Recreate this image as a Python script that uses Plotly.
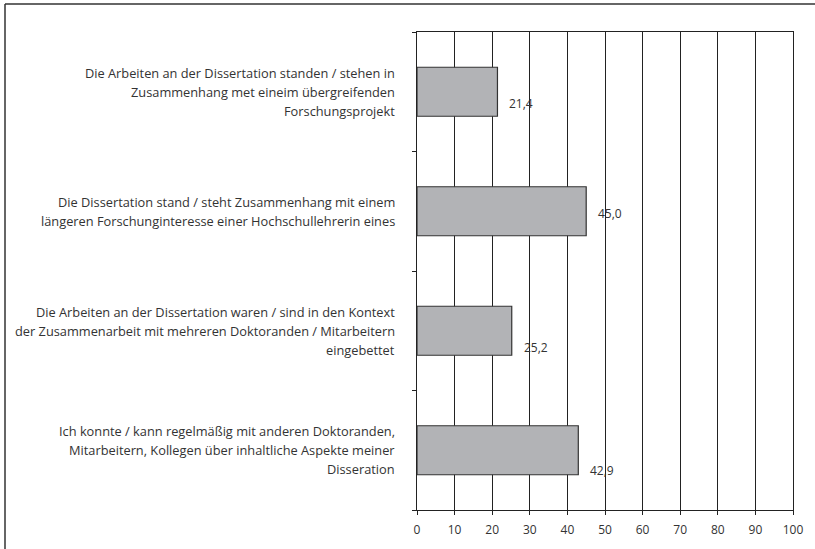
import plotly.graph_objects as go

categories = [
    "Die Arbeiten an der Dissertation standen / stehen in<br>Zusammenhang met eineim übergreifenden<br>Forschungsprojekt",
    "Die Dissertation stand / steht Zusammenhang mit einem<br>längeren Forschunginteresse einer Hochschullehrerin eines",
    "Die Arbeiten an der Dissertation waren / sind in den Kontext<br>der Zusammenarbeit mit mehreren Doktoranden / Mitarbeitern<br>eingebettet",
    "Ich konnte / kann regelmäßig mit anderen Doktoranden,<br>Mitarbeitern, Kollegen über inhaltliche Aspekte meiner<br>Disseration",
]
values = [21.4, 45.0, 25.2, 42.9]
x_ticks = [0, 10, 20, 30, 40, 50, 60, 70, 80, 90, 100]

# label vertical offsets (px) as placed in the original
label_yshift = [-12, -2, -17, -20]

FONT = "Open Sans"
positions = list(range(len(categories)))

fig = go.Figure()
fig.add_trace(go.Bar(
    x=values, y=positions, orientation="h", width=0.41,
    marker=dict(color="#b2b3b6", line=dict(color="#333333", width=1.2)),
    hoverinfo="x",
))

annotations = []
for i, (cat, v) in enumerate(zip(categories, values)):
    lines = cat.split("<br>")
    n = len(lines)
    for j, ln in enumerate(lines):
        annotations.append(dict(
            x=0, xref="paper", y=i, yref="y", text=ln, showarrow=False,
            xanchor="right", yanchor="middle", xshift=-20,
            yshift=((n - 1) / 2 - j) * 19,
            font=dict(family=FONT, size=12.8, color="#333333"),
        ))
    annotations.append(dict(
        x=v, xref="x", y=i, yref="y", text=f"{v:.1f}".replace(".", ","),
        showarrow=False, xanchor="left", yanchor="middle", xshift=10,
        yshift=label_yshift[i],
        font=dict(family=FONT, size=12, color="#333333"),
    ))

fig.update_layout(
    width=815, height=549,
    margin=dict(l=417, r=22, t=32, b=39),
    paper_bgcolor="white", plot_bgcolor="white",
    showlegend=False,
    annotations=annotations,
    xaxis=dict(
        range=[0, 100], tickvals=x_ticks, ticktext=[str(t) for t in x_ticks],
        showgrid=True, gridcolor="#222222", gridwidth=1,
        showline=True, linecolor="#222222", linewidth=1.2, mirror=True,
        ticks="outside", ticklen=4, tickcolor="#222222",
        ticklabelstandoff=4,
        tickfont=dict(family=FONT, size=12, color="#333333"),
        zeroline=False, fixedrange=True,
    ),
    yaxis=dict(
        range=[3.5, -0.5],
        tickvals=[-0.5, 0.5, 1.5, 2.5, 3.5], ticktext=["", "", "", "", ""],
        showgrid=False, showline=True, linecolor="#222222", linewidth=1.2,
        mirror=True, ticks="outside", ticklen=4, tickcolor="#222222",
        zeroline=False, fixedrange=True,
    ),
    shapes=[
        dict(type="line", xref="paper", yref="paper",
             x0=(5 - 417) / 376, x1=1.2, y0=(510 - 4) / 478, y1=(510 - 4) / 478,
             line=dict(color="#333333", width=1.5)),
        dict(type="line", xref="paper", yref="paper",
             x0=(5 - 417) / 376, x1=(5 - 417) / 376, y0=-0.2, y1=(510 - 4) / 478,
             line=dict(color="#333333", width=1.5)),
    ],
)

fig.write_html(
    "out.html",
    config={"displayModeBar": False},
    post_script="document.body.style.margin='0';document.body.style.padding='0';",
)
